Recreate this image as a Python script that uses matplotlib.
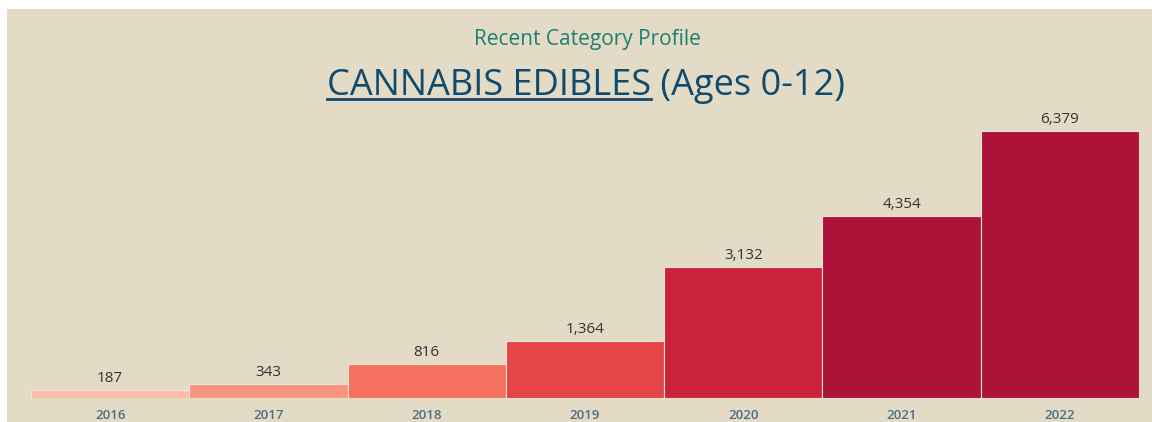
import matplotlib
matplotlib.use("Agg")
import matplotlib.pyplot as plt
from matplotlib.patches import Rectangle
from matplotlib.lines import Line2D

years = ["2016", "2017", "2018", "2019", "2020", "2021", "2022"]
cases = [187, 343, 816, 1364, 3132, 4354, 6379]
colors = ["#FBBCAA", "#F9957F", "#F5725F", "#E54548", "#CB233C", "#AD1238", "#AD1238"]

plt.rcParams['font.family'] = ['Open Sans', 'DejaVu Sans']

W, H = 1152, 422
fig = plt.figure(figsize=(W / 100, H / 100), dpi=100, facecolor='white')

# beige panel
fig.patches.append(Rectangle((7 / W, 0), 1 - 7 / W, (H - 9) / H, transform=fig.transFigure,
                             facecolor='#E4DBC6', edgecolor='none', zorder=-10))

ax = fig.add_axes([31 / W, (H - 398) / H, 1108 / W, 267 / H])
ax.set_zorder(5)
ax.set_facecolor('none')
x = range(len(years))
ax.bar(x, cases, width=1.0, color=colors, edgecolor='#F3E3DC', linewidth=0.8)
ax.set_xlim(-0.5, len(years) - 0.5)
ax.set_ylim(0, max(cases))
for i, v in enumerate(cases):
    ax.text(i, v + 90, f"{v:,}", ha='center', va='bottom', fontsize=11, color='#333333')

ax.set_xticks(list(x))
ax.set_xticklabels(years, fontsize=9.5, color='#4B6E86', fontweight='semibold')
ax.tick_params(axis='x', length=0, pad=8)
ax.set_yticks([])
for s in ax.spines.values():
    s.set_visible(False)

fig.text(587 / W, (H - 40) / H, "Recent Category Profile", ha='center', va='center',
         fontsize=15, color='#1B7F73')

# main title with underlined first part
title_y = (H - 95) / H
t1 = fig.text(0, title_y, "CANNABIS EDIBLES", ha='left', va='baseline', fontsize=26, color='#0F4A6F')
t2 = fig.text(0, title_y, " (Ages 0-12)", ha='left', va='baseline', fontsize=26, color='#0F4A6F')
r = fig.canvas.get_renderer()
w1 = t1.get_window_extent(r).width
w2 = t2.get_window_extent(r).width
x0 = 586 - (w1 + w2) / 2
t1.set_x(x0 / W)
t2.set_x((x0 + w1) / W)
uy = (H - 99) / H
fig.lines.append(Line2D([x0 / W, (x0 + w1) / W], [uy, uy], transform=fig.transFigure,
                        color='#0F4A6F', linewidth=2))

fig.savefig("out.png", dpi=100, facecolor=fig.get_facecolor())
